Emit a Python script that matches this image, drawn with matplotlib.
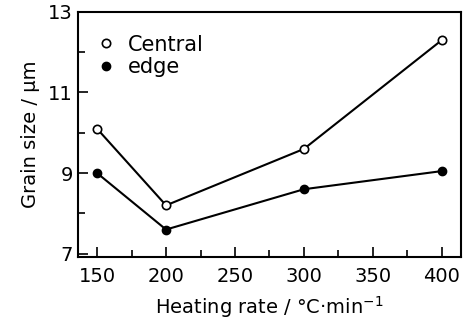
import matplotlib.pyplot as plt

# heating rate (degC/min) and grain size (um)
heating_rate = [150, 200, 300, 400]
central = [10.1, 8.2, 9.6, 12.3]
edge = [9.0, 7.6, 8.6, 9.05]

plt.rcParams['font.family'] = 'DejaVu Sans'

fig = plt.figure(figsize=(4.63, 3.2), dpi=100)
ax = fig.add_axes([0.168, 0.197, 0.828, 0.766])

ax.plot(heating_rate, central, color='black', lw=1.5, marker='o', ms=6,
        mfc='white', mec='black', mew=1.2, label='Central')
ax.plot(heating_rate, edge, color='black', lw=1.5, marker='o', ms=6,
        mfc='black', mec='black', label='edge')

ax.set_xlim(136, 414)
ax.set_ylim(6.92, 13)
ax.set_xticks([150, 200, 250, 300, 350, 400])
ax.set_xticks([175, 225, 275, 325, 375], minor=True)
ax.set_yticks([7, 9, 11, 13])
ax.set_yticks([8, 10, 12], minor=True)
ax.tick_params(which='both', direction='in', labelsize=14, width=1.2)
ax.tick_params(which='major', length=7)
ax.tick_params(which='minor', length=5)
ax.tick_params(axis='x', pad=7)
for s in ax.spines.values():
    s.set_linewidth(1.5)

ax.set_xlabel('Heating rate / °C·min$^{-1}$', fontsize=14, labelpad=6)
ax.set_ylabel('Grain size / μm', fontsize=14, labelpad=6)

leg = ax.legend(loc='upper left', frameon=False, fontsize=15, handlelength=0.5,
                handletextpad=0.8, borderaxespad=0.7, labelspacing=0.1)
for h in leg.legend_handles:
    h.set_linestyle('none')

fig.savefig('out.png', dpi=100)
